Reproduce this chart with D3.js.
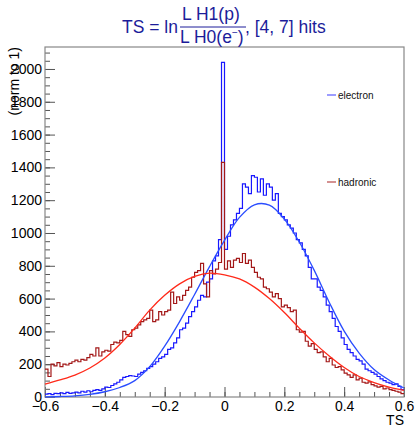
<!DOCTYPE html>
<html>
<head>
<meta charset="utf-8">
<script src="https://cdn.jsdelivr.net/npm/d3@7"></script>
<style>
  body { margin: 0; background: #fff; }
  svg { display: block; font-family: "Liberation Sans", Arial, Helvetica, sans-serif; }
</style>
</head>
<body>
<div id="chart"></div>
<script>
// histogram binning: 120 bins of 0.01 from -0.6 to 0.6
var binLow = -0.6, binWidth = 0.01;

// electron counts per bin
var electron = [
  18, 20, 15, 22, 20, 25, 20, 28, 22, 25,
  30, 25, 35, 30, 38, 32, 40, 45, 40, 50,
  60, 58, 70, 80, 90, 105, 120, 125, 130, 128,
  125, 140, 150, 160, 175, 185, 200, 215, 235, 245,
  260, 290, 300, 330, 360, 410, 420, 450, 490, 520,
  550, 590, 620, 610, 700, 720, 830, 860, 960, 2040,
  900, 980, 1050, 1080, 1120, 1150, 1300, 1280, 1240, 1350,
  1340, 1250, 1330, 1230, 1300, 1280, 1200, 1240, 1120, 1100,
  1080, 1050, 1030, 1000, 960, 940, 900, 860, 790, 720,
  720, 670, 650, 610, 560, 520, 480, 430, 400, 360,
  320, 290, 270, 250, 230, 220, 200, 170, 160, 150,
  140, 125, 110, 100, 90, 85, 75, 80, 65, 45
];

// hadronic counts per bin
var hadronic = [
  170, 125, 200, 190, 210, 185, 200, 195, 205, 215,
  225, 215, 230, 225, 240, 260, 250, 300, 250, 275,
  285, 280, 320, 335, 330, 345, 400, 380, 370, 410,
  420, 440, 460, 470, 480, 530, 460, 470, 520, 500,
  520, 530, 640, 570, 610, 590, 620, 650, 670, 730,
  760, 770, 815, 690, 610, 770, 750, 780, 820, 1430,
  780, 830, 790, 835, 845, 820, 875, 815, 835, 790,
  760, 730, 720, 670, 660, 640, 610, 630, 600, 550,
  560, 545, 520, 530, 410, 395, 400, 340, 310, 325,
  290, 270, 275, 245, 215, 235, 195, 180, 185, 165,
  145, 135, 120, 135, 105, 115, 90, 85, 92, 75,
  68, 60, 65, 50, 55, 45, 40, 35, 30, 20
];

// fit curves
var fitTS = [-0.6, -0.55, -0.5, -0.45, -0.4, -0.35, -0.3, -0.25, -0.2, -0.15, -0.1, -0.05,
             0, 0.05, 0.1, 0.15, 0.2, 0.25, 0.3, 0.35, 0.4, 0.45, 0.5, 0.55, 0.6];
var fitElectron = [1, 3, 7, 16, 32, 58, 100, 185, 310, 460, 625, 795,
                   955, 1095, 1172, 1170, 1085, 945, 772, 578, 402, 268, 168, 104, 55];
var fitHadronic = [78, 104, 134, 177, 238, 320, 420, 530, 620, 690, 735, 755,
                   745, 720, 670, 600, 515, 420, 330, 250, 180, 125, 88, 60, 40];

var xMajor = [-0.6, -0.4, -0.2, 0, 0.2, 0.4, 0.6];
var yMajor = [0, 200, 400, 600, 800, 1000, 1200, 1400, 1600, 1800, 2000];
var legendNames = ["electron", "hadronic"];

var W = 416, H = 428;
var fLeft = 45, fRight = 404, fTop = 47, fBottom = 397;

var svg = d3.select("#chart").append("svg")
  .attr("width", W)
  .attr("height", H);

var x = d3.scaleLinear().domain([-0.6, 0.6]).range([fLeft, fRight]);
var y = d3.scaleLinear().domain([0, 2134]).range([fBottom, fTop]);

// minor ticks
var xMinor = d3.range(-0.6, 0.6001, 0.05).map(function(d) { return +d.toFixed(2); });
var yMinor = d3.range(0, 2134, 50);

svg.append("g")
  .attr("transform", "translate(0," + fBottom + ")")
  .call(d3.axisBottom(x).tickValues(xMinor).tickSize(-5).tickFormat(""))
  .call(function(g) { g.select(".domain").remove(); });

svg.append("g")
  .attr("transform", "translate(" + fLeft + ",0)")
  .call(d3.axisLeft(y).tickValues(yMinor).tickSize(-5).tickFormat(""))
  .call(function(g) { g.select(".domain").remove(); });

// major ticks + labels
var fmtX = function(d) { return d === 0 ? "0" : String(d).replace("-", "\u2212"); };
var xAxis = svg.append("g")
  .attr("transform", "translate(0," + fBottom + ")")
  .call(d3.axisBottom(x).tickValues(xMajor).tickSize(-10).tickPadding(4).tickFormat(fmtX));
xAxis.select(".domain").remove();
xAxis.selectAll("text").attr("font-size", 14).attr("fill", "#000")
  .attr("font-family", "Liberation Sans, Arial, sans-serif");

var yAxis = svg.append("g")
  .attr("transform", "translate(" + fLeft + ",0)")
  .call(d3.axisLeft(y).tickValues(yMajor).tickSize(-10).tickPadding(3).tickFormat(d3.format("d")));
yAxis.select(".domain").remove();
yAxis.selectAll("text").attr("font-size", 14).attr("fill", "#000")
  .attr("font-family", "Liberation Sans, Arial, sans-serif");

svg.selectAll(".tick line").attr("stroke", "#555");

// frame
svg.append("rect")
  .attr("x", fLeft).attr("y", fTop)
  .attr("width", fRight - fLeft).attr("height", fBottom - fTop)
  .attr("fill", "none").attr("stroke", "#888").attr("stroke-width", 1.2);

// histograms as step lines
function stepPoints(values) {
  var pts = values.map(function(v, i) { return [binLow + i * binWidth, v]; });
  pts.push([binLow + values.length * binWidth, values[values.length - 1]]);
  return pts;
}
var stepLine = d3.line()
  .x(function(d) { return x(d[0]); })
  .y(function(d) { return y(d[1]); })
  .curve(d3.curveStepAfter);

var plot = svg.append("g");

plot.append("path")
  .attr("d", stepLine(stepPoints(electron)))
  .attr("fill", "none").attr("stroke", "#1818ff").attr("stroke-width", 1.2);

plot.append("path")
  .attr("d", stepLine(stepPoints(hadronic)))
  .attr("fill", "none").attr("stroke", "#a31818").attr("stroke-width", 1.2);

// fits
var fitLine = d3.line()
  .x(function(d, i) { return x(fitTS[i]); })
  .y(function(d) { return y(d); })
  .curve(d3.curveCatmullRom.alpha(0.5));

plot.append("path")
  .attr("d", fitLine(fitElectron))
  .attr("fill", "none").attr("stroke", "#2a4dff").attr("stroke-width", 1.3);

plot.append("path")
  .attr("d", fitLine(fitHadronic))
  .attr("fill", "none").attr("stroke", "#ff2a1a").attr("stroke-width", 1.3);

// legend
var legendColors = ["#5a5aff", "#b84848"];
var legendY = [95, 182];
var leg = svg.append("g").selectAll("g")
  .data(legendNames).enter().append("g")
  .attr("transform", function(d, i) { return "translate(327," + legendY[i] + ")"; });
leg.append("line")
  .attr("x1", 0).attr("x2", 9).attr("y1", 0).attr("y2", 0)
  .attr("stroke", function(d, i) { return legendColors[i]; }).attr("stroke-width", 1.2);
leg.append("text")
  .attr("x", 11).attr("y", 3.5)
  .attr("font-size", 10).attr("fill", "#111")
  .text(function(d) { return d; });

// axis titles
svg.append("text")
  .attr("x", fRight).attr("y", 425)
  .attr("text-anchor", "end").attr("font-size", 14)
  .text("TS");

svg.append("text")
  .attr("transform", "translate(19," + fTop + ") rotate(-90)")
  .attr("text-anchor", "end").attr("font-size", 14)
  .text("(norm to 1)");

// title with fraction
var titleColor = "#1c1c9a";
var title = svg.append("g").attr("fill", titleColor).attr("font-size", 17.5);
title.append("text").attr("x", 122).attr("y", 33).text("TS = ln");
title.append("text").attr("x", 182).attr("y", 20).text("L H1(p)");
var den = title.append("text").attr("x", 180).attr("y", 43);
den.append("tspan").text("L H0(e");
den.append("tspan").attr("font-size", 10).attr("dy", -7).text("\u2212");
den.append("tspan").attr("dy", 7).text(")");
title.append("line")
  .attr("x1", 180).attr("x2", 246).attr("y1", 27).attr("y2", 27)
  .attr("stroke", titleColor).attr("stroke-width", 1);
title.append("text").attr("x", 245).attr("y", 33).text(", [4, 7] hits");
</script>
</body>
</html>
